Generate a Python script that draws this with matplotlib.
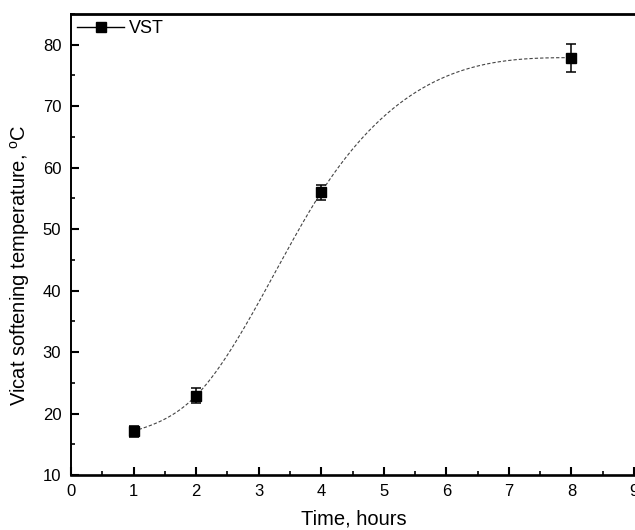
import numpy as np
import matplotlib
matplotlib.use("Agg")
import matplotlib.pyplot as plt
from matplotlib.lines import Line2D
from matplotlib.ticker import MultipleLocator

time_h = [1, 2, 4, 8]
vst = [17.15, 22.9, 56.0, 77.9]
vst_err = [0.9, 1.2, 1.25, 2.3]
series_label = "VST"

plt.rcParams['font.family'] = ['Liberation Sans', 'DejaVu Sans']
plt.rcParams['mathtext.fontset'] = 'custom'
plt.rcParams['mathtext.rm'] = 'Liberation Sans'

# clamped cubic spline through the data (like Origin's spline connector)
def clamped_spline(x, y, s0, s1, n=300):
    x = np.asarray(x, float); y = np.asarray(y, float)
    h = np.diff(x); d = np.diff(y) / h
    N = len(x)
    A = np.zeros((N, N)); b = np.zeros(N)
    A[0, 0] = 1; b[0] = s0
    A[-1, -1] = 1; b[-1] = s1
    for i in range(1, N - 1):
        A[i, i - 1] = h[i]
        A[i, i] = 2 * (h[i - 1] + h[i])
        A[i, i + 1] = h[i - 1]
        b[i] = 3 * (h[i] * d[i - 1] + h[i - 1] * d[i])
    m = np.linalg.solve(A, b)
    xs = np.linspace(x[0], x[-1], n)
    idx = np.clip(np.searchsorted(x, xs) - 1, 0, N - 2)
    t = (xs - x[idx]) / h[idx]
    h00 = (1 + 2 * t) * (1 - t) ** 2
    h10 = t * (1 - t) ** 2
    h01 = t ** 2 * (3 - 2 * t)
    h11 = t ** 2 * (t - 1)
    ys = h00 * y[idx] + h10 * h[idx] * m[idx] + h01 * y[idx + 1] + h11 * h[idx] * m[idx + 1]
    return xs, ys

fig = plt.figure(figsize=(6.35, 5.30), dpi=100)
ax = fig.add_axes([71 / 635, 55 / 530, (634 - 71) / 635, (475 - 14) / 530])

xs, ys = clamped_spline(time_h, vst, 3.0, 0.0)
ax.plot(xs, ys, color='#444444', lw=0.8, linestyle=(0, (3, 1.8)), zorder=2)
ax.errorbar(time_h, vst, yerr=vst_err, fmt='s', color='black', ms=6.5,
            ecolor='black', elinewidth=1.1, capsize=3.3, capthick=1.1, zorder=3)

ax.set_xlim(0, 9)
ax.set_ylim(10, 85)
ax.xaxis.set_major_locator(MultipleLocator(1))
ax.xaxis.set_minor_locator(MultipleLocator(0.5))
ax.yaxis.set_major_locator(MultipleLocator(10))
ax.yaxis.set_minor_locator(MultipleLocator(5))
ax.tick_params(which='both', direction='in', top=False, right=False,
               labelsize=12, colors='black')
ax.tick_params(which='major', length=6, width=1.5)
ax.tick_params(which='minor', length=3.2, width=1.2)
ax.tick_params(axis='x', which='major', pad=6.5)
ax.tick_params(axis='y', which='major', pad=7)

ax.spines['right'].set_visible(False)
ax.spines['top'].set_linewidth(2.0)
ax.spines['left'].set_linewidth(1.4)
ax.spines['bottom'].set_linewidth(1.9)

ax.set_xlabel('Time, hours', fontsize=14.5)
ax.set_ylabel(r'Vicat softening temperature, $^{\mathrm{o}}$C', fontsize=14.5)
ax.xaxis.set_label_coords(0.503, -0.074)
ax.yaxis.set_label_coords(-0.07, 0.455)

handle = Line2D([], [], color='black', lw=1.0, marker='s', ms=7)
ax.legend([handle], [series_label], loc='upper left', frameon=False,
          fontsize=13, handlelength=2.6, borderaxespad=0.15, handletextpad=0.25,
          borderpad=0.2)

fig.savefig('out.png', dpi=100)
